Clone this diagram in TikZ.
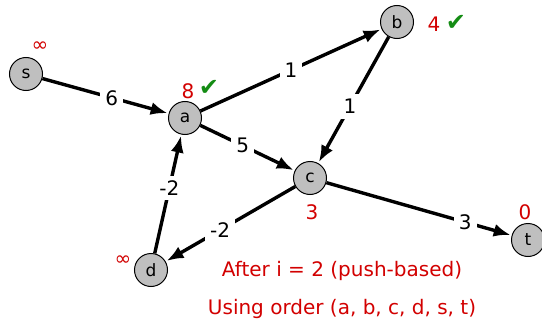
\documentclass[tikz,border=0pt]{standalone}
\usepackage{fontspec}
\setmainfont{DejaVu Sans}
\usetikzlibrary{arrows.meta}
\definecolor{distred}{RGB}{210,0,0}
\definecolor{okgreen}{RGB}{20,140,20}
\begin{document}
\begin{tikzpicture}[%
    x=1pt, y=-1pt,
    vertex/.style={circle, draw, line width=1pt, fill=black!25, minimum size=33pt, inner sep=0pt, font=\fontsize{17}{17}\selectfont},
    edge/.style={-{Latex[length=17pt,width=13pt]}, line width=3.4pt, shorten >=1pt},
    wt/.style={fill=white, inner sep=5pt, font=\fontsize{20}{20}\selectfont},
    dist/.style={text=distred, font=\fontsize{20}{20}\selectfont},
    ok/.style={text=okgreen, font=\fontsize{24}{24}\selectfont}]
    \useasboundingbox (0,0) rectangle (542,324);
    \node [vertex] (s) at (26,74) {s};
    \node [vertex] (a) at (185,118) {a};
    \node [vertex] (b) at (397,22) {b};
    \node [vertex] (c) at (310,178) {c};
    \node [vertex] (d) at (151,270) {d};
    \node [vertex] (t) at (528,240) {t};
    \draw [edge] (s) -- node [wt, pos=0.55] {6} (a);
    \draw [edge] (a) -- node [wt, pos=0.5] {1} (b);
    \draw [edge] (b) -- node [wt, pos=0.55] {1} (c);
    \draw [edge] (a) -- node [wt, pos=0.45] {5} (c);
    \draw [edge] (d) -- node [wt, pos=0.55] {-2} (a);
    \draw [edge] (c) -- node [wt, pos=0.58] {-2} (d);
    \draw [edge] (c) -- node [wt, pos=0.75] {3} (t);
    % distances
    \node [dist] (ds) at (40,47) {∞};
    \node [dist] (da) at (188,91) {8};
    \node [ok] (ka) at (209,88) {✔};
    \node [dist] (db) at (434,24) {4};
    \node [ok] (kb) at (456,23) {✔};
    \node [dist] (dc) at (312,212) {3};
    \node [dist] (dt) at (525,212) {0};
    \node [dist] (dd) at (123,261) {∞};
    \node [dist] (note1) at (342,271) {After i = 2 (push-based)};
    \node [dist] (note2) at (342,309) {Using order (a, b, c, d, s, t)};
\end{tikzpicture}
\end{document}
